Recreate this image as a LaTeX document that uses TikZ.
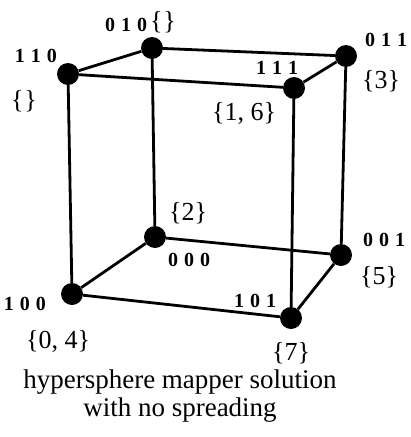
\documentclass[tikz,border=0pt]{standalone}
\usepackage{fontspec}
\setmainfont{Liberation Serif}
\begin{document}
\begin{tikzpicture}[x=1pt,y=-1pt,
  vtx/.style={circle,fill=black,inner sep=0pt,minimum size=22pt},
  edge/.style={line width=2.8pt},
  bin/.style={font=\fontsize{20}{20}\selectfont\bfseries,inner sep=0pt},
  set/.style={font=\fontsize{26}{26}\selectfont,inner sep=0pt},
  captext/.style={font=\fontsize{27}{28}\selectfont,align=center,inner sep=0pt}]
\useasboundingbox (0,0) rectangle (411,437);
\node[vtx] (v010) at (152,48) {};
\node[vtx] (v110) at (68,74) {};
\node[vtx] (v011) at (346,56) {};
\node[vtx] (v111) at (294,88) {};
\node[vtx] (v000) at (155,237) {};
\node[vtx] (v001) at (341,255) {};
\node[vtx] (v100) at (72,294) {};
\node[vtx] (v101) at (291,318) {};
\draw[edge] (v110) -- (v010) -- (v011) -- (v111) -- (v110);
\draw[edge] (v100) -- (v000) -- (v001) -- (v101) -- (v100);
\draw[edge] (v110) -- (v100);
\draw[edge] (v010) -- (v000);
\draw[edge] (v011) -- (v001);
\draw[edge] (v111) -- (v101);
\node[bin] (l010) at (126,25) {0\hspace{6pt}1\hspace{6pt}0};
\node[set] (s010) at (163,22) {\{\hspace{1pt}\}};
\node[bin] (l110) at (36,56) {1\hspace{6pt}1\hspace{6pt}0};
\node[set] (s110) at (24,101) {\{\hspace{1pt}\}};
\node[bin] (l011) at (386,40) {0\hspace{6pt}1\hspace{6pt}1};
\node[set] (s011) at (381,81) {\{3\}};
\node[bin] (l111) at (277,68) {1\hspace{6pt}1\hspace{6pt}1};
\node[set] (s111) at (244,113) {\{1, 6\}};
\node[set] (s000) at (188,213) {\{2\}};
\node[bin] (l000) at (189,260) {0\hspace{6pt}0\hspace{6pt}0};
\node[bin] (l001) at (384,240) {0\hspace{6pt}0\hspace{6pt}1};
\node[set] (s001) at (379,277) {\{5\}};
\node[bin] (l100) at (25,304) {1\hspace{6pt}0\hspace{6pt}0};
\node[set] (s100) at (58,341) {\{0, 4\}};
\node[bin] (l101) at (255,301) {1\hspace{6pt}0\hspace{6pt}1};
\node[set] (s101) at (291,353) {\{7\}};
\node[captext] (caption) at (180,396) {hypersphere mapper solution\\with no spreading};
\end{tikzpicture}
\end{document}
